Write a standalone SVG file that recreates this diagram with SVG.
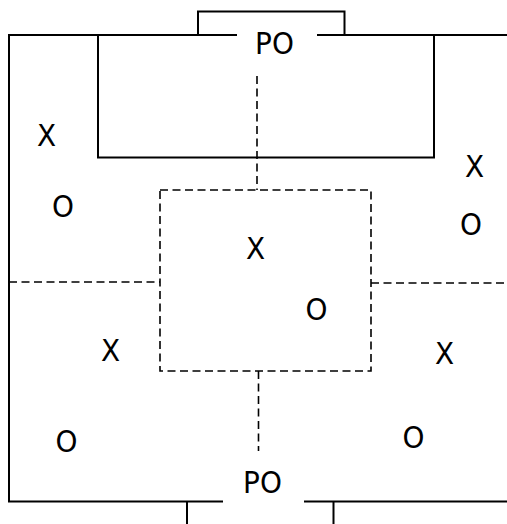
<svg xmlns="http://www.w3.org/2000/svg" width="507" height="524" viewBox="0 0 507 524">
<style>
.solid{fill:none;stroke:#000;stroke-width:2}
.dash{fill:none;stroke:#000;stroke-width:1.6;stroke-dasharray:8 4.5}
.lbl{font-family:'DejaVu Sans Condensed','DejaVu Sans',sans-serif;font-stretch:condensed;font-size:31px;fill:#000;text-anchor:middle}
</style>
<rect width="507" height="524" fill="#fff"/>
<g id="field">
<path class="solid" d="M237,35 H9 V501.5 H223"/>
<path class="solid" d="M317,35 H507"/>
<path class="solid" d="M304,501.5 H507"/>
<path class="solid" d="M198,35 V11.5 H344.5 V35"/>
<path class="solid" d="M187,524 V501.5"/>
<path class="solid" d="M333.5,524 V501.5"/>
<path class="solid" d="M98,35 V157.5 H434 V35"/>
</g>
<g id="connectors">
<path class="dash" d="M257,76 V190"/>
<rect class="dash" x="160" y="190" width="211" height="181"/>
<path class="dash" d="M9,282 H160"/>
<path class="dash" d="M371,283 H507"/>
<path class="dash" d="M258.5,371 V451"/>
</g>
<g id="labels">
<text class="lbl" x="274.5" y="53.5">PO</text>
<text class="lbl" x="262.5" y="492.5">PO</text>
<text class="lbl" x="46.5" y="145.5">X</text>
<text class="lbl" x="63" y="216.5">O</text>
<text class="lbl" x="474.5" y="176.5">X</text>
<text class="lbl" x="471" y="235">O</text>
<text class="lbl" x="255.5" y="258.5">X</text>
<text class="lbl" x="316.5" y="319.5">O</text>
<text class="lbl" x="110.5" y="360.5">X</text>
<text class="lbl" x="444.5" y="363.5">X</text>
<text class="lbl" x="66.5" y="451.5">O</text>
<text class="lbl" x="413.5" y="447.5">O</text>
</g>
</svg>
